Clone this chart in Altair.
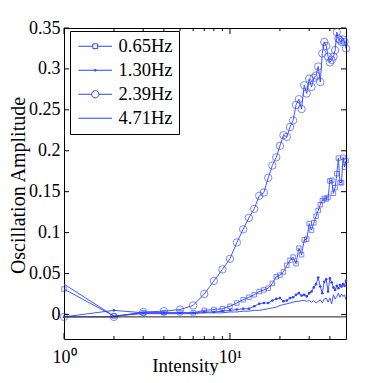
import altair as alt
import pandas as pd

# ---------------- data ----------------
intensity = list(range(1, 51))

series_names = ["0.65Hz", "1.30Hz", "2.39Hz", "4.71Hz"]

amp_065 = [0.031, -0.002, 0.002, 0.002, 0.002, 0.002, 0.005, 0.006, 0.007, 0.010,
           0.014, 0.018, 0.021, 0.024, 0.028, 0.030, 0.032, 0.038, 0.046, 0.048,
           0.052, 0.060, 0.066, 0.070, 0.062, 0.081, 0.073, 0.091, 0.092, 0.111,
           0.103, 0.112, 0.120, 0.127, 0.134, 0.139, 0.142, 0.141, 0.143, 0.163,
           0.164, 0.148, 0.155, 0.172, 0.191, 0.161, 0.161, 0.192, 0.180, 0.188]

amp_130 = [-0.003, 0.005, 0.002, 0.002, 0.002, 0.002, 0.003, 0.003, 0.004, 0.005,
           0.006, 0.007, 0.007, 0.010, 0.013, 0.014, 0.014, 0.017, 0.019, 0.020,
           0.016, 0.017, 0.020, 0.021, 0.024, 0.026, 0.023, 0.024, 0.022, 0.026,
           0.028, 0.033, 0.037, 0.045, 0.034, 0.026, 0.040, 0.043, 0.028, 0.044,
           0.039, 0.033, 0.030, 0.035, 0.032, 0.036, 0.034, 0.037, 0.035, 0.041]

amp_239 = [-0.003, -0.003, 0.003, 0.004, 0.006, 0.011, 0.025, 0.041, 0.055, 0.068,
           0.088, 0.104, 0.118, 0.129, 0.145, 0.149, 0.167, 0.182, 0.192, 0.206,
           0.219, 0.217, 0.229, 0.237, 0.256, 0.263, 0.251, 0.280, 0.270, 0.288,
           0.278, 0.289, 0.292, 0.303, 0.284, 0.319, 0.333, 0.328, 0.315, 0.308,
           0.311, 0.315, 0.323, 0.345, 0.337, 0.335, 0.333, 0.336, 0.333, 0.325]

amp_471 = [0.037, -0.002, 0.001, 0.001, 0.001, 0.001, 0.002, 0.002, 0.002, 0.003,
           0.003, 0.004, 0.004, 0.005, 0.005, 0.006, 0.007, 0.008, 0.009, 0.011,
           0.012, 0.013, 0.014, 0.015, 0.016, 0.016, 0.017, 0.017, 0.016, 0.017,
           0.015, 0.017, 0.014, 0.016, 0.018, 0.014, 0.019, 0.020, 0.015, 0.020,
           0.013, 0.024, 0.019, 0.022, 0.026, 0.021, 0.025, 0.022, 0.024, 0.018]

ytick_values = [0, 0.05, 0.1, 0.15, 0.2, 0.25, 0.3, 0.35]
xtick_values = [1, 10]
xtick_labels = ["10⁰", "10¹"]
xminor_values = [2, 3, 4, 5, 6, 7, 8, 9, 20, 30, 40]
zero_level = [-0.003]

# ---------------- layout / style ----------------
W, H = 282, 311
BLUE = "#2f43ff"
SERIF = "Liberation Serif, Times New Roman, serif"

rows = []
for name, vals in zip(series_names, [amp_065, amp_130, amp_239, amp_471]):
    for xv, yv in zip(intensity, vals):
        rows.append({"intensity": xv, "amp": yv, "series": name})
df = pd.DataFrame(rows)

xscale = alt.Scale(type="log", domain=[1, 50], nice=False)
yscale = alt.Scale(domain=[-0.03, 0.35], nice=False, zero=False)

label_expr = " : ".join(
    [f"datum.value == {v} ? '{l}'" for v, l in zip(xtick_values, xtick_labels)]
) + " : ''"

x_enc = alt.X(
    "intensity:Q", scale=xscale,
    axis=alt.Axis(values=xtick_values, labelExpr=label_expr, ticks=False, grid=False,
                  domain=False, labelFont=SERIF, labelFontSize=18, labelColor="black",
                  labelPadding=9, labelFlush=False,
                  title="Intensity", titleFont=SERIF, titleFontSize=19,
                  titleFontWeight="normal", titleColor="black", titleX=121, titleY=32,
                  titleAlign="center", titleBaseline="alphabetic"),
)
y_enc = alt.Y(
    "amp:Q", scale=yscale,
    axis=alt.Axis(values=ytick_values, format="~g", ticks=False, grid=False, domain=False,
                  labelFont=SERIF, labelFontSize=18, labelColor="black", labelPadding=4,
                  title="Oscillation Amplitude", titleFont=SERIF, titleFontSize=20,
                  titleFontWeight="normal", titleColor="black", titleX=-40, titleY=157,
                  titleAngle=-90, titleAlign="center", titleBaseline="alphabetic"),
)

base = alt.Chart(df)
lines = base.mark_line(color=BLUE, strokeWidth=0.9, clip=True).encode(
    x=x_enc, y=y_enc, detail="series:N")

squares = base.transform_filter(alt.datum.series == series_names[0]).mark_point(
    shape="square", size=20, filled=False, color=BLUE, strokeWidth=0.9
).encode(x="intensity:Q", y="amp:Q")

dots = base.transform_filter(alt.datum.series == series_names[1]).mark_point(
    shape="circle", size=7, filled=True, color=BLUE, opacity=1
).encode(x="intensity:Q", y="amp:Q")

circles = base.transform_filter(alt.datum.series == series_names[2]).mark_point(
    shape="circle", size=55, filled=False, color=BLUE, strokeWidth=0.9
).encode(x="intensity:Q", y="amp:Q")

zero_rule = alt.Chart(pd.DataFrame({"amp": zero_level})).mark_rule(
    color="#222222", strokeWidth=1
).encode(y="amp:Q", x=alt.value(0), x2=alt.value(W))

ydf = pd.DataFrame({"amp": ytick_values})
ytick_l = alt.Chart(ydf).mark_rule(color="black", strokeWidth=1).encode(
    y="amp:Q", x=alt.value(0), x2=alt.value(5))
ytick_r = alt.Chart(ydf).mark_rule(color="black", strokeWidth=1).encode(
    y="amp:Q", x=alt.value(W - 5), x2=alt.value(W))

xmaj = pd.DataFrame({"intensity": xtick_values})
xmin = pd.DataFrame({"intensity": xminor_values})
xtick_b = alt.Chart(xmaj).mark_rule(color="black").encode(
    x="intensity:Q", y=alt.value(H), y2=alt.value(H - 6))
xtick_t = alt.Chart(xmaj).mark_rule(color="black").encode(
    x="intensity:Q", y=alt.value(0), y2=alt.value(6))
xminor_b = alt.Chart(xmin).mark_rule(color="black").encode(
    x="intensity:Q", y=alt.value(H), y2=alt.value(H - 3))
xminor_t = alt.Chart(xmin).mark_rule(color="black").encode(
    x="intensity:Q", y=alt.value(0), y2=alt.value(3))

legend_paths = [
    "M-2.1,0H-0.3M0.3,0H2.1M-0.3,-0.3H0.3V0.3H-0.3Z",
    "M-2.1,0H2.1M0.12,0A0.12,0.12 0 1,1 -0.12,0A0.12,0.12 0 1,1 0.12,0",
    "M-2.1,0H-0.45M0.45,0H2.1M0.45,0A0.45,0.45 0 1,1 -0.45,0A0.45,0.45 0 1,1 0.45,0",
    "M-2.1,0H2.1",
]

legend_layer = alt.Chart(pd.DataFrame({"series": series_names})).mark_point(
    clip=True, filled=False, color=BLUE
).encode(
    x=alt.value(-300), y=alt.value(-300),
    shape=alt.Shape("series:N",
                    scale=alt.Scale(domain=series_names, range=legend_paths),
                    legend=alt.Legend(title=None, orient="none", legendX=6, legendY=3,
                                      padding=6, symbolSize=256, symbolOffset=10,
                                      labelOffset=14, rowPadding=5,
                                      labelFont=SERIF, labelFontSize=18.5,
                                      labelColor="black", strokeColor="black",
                                      fillColor="white", symbolStrokeWidth=1,
                                      symbolStrokeColor=BLUE,
                                      symbolFillColor="transparent",
                                      symbolOpacity=1, labelLimit=200,
                                      cornerRadius=0)),
)

chart = alt.layer(
    lines, squares, dots, circles, zero_rule,
    ytick_l, ytick_r, xtick_b, xtick_t, xminor_b, xminor_t, legend_layer
).properties(
    width=W, height=H,
    autosize=alt.AutoSizeParams(type="none"),
    padding={"left": 56, "top": 20, "right": 20, "bottom": 36},
    background="white",
).configure_view(stroke="black", strokeWidth=1)

chart.save("out.html", embed_options={"renderer": "svg", "actions": False})
